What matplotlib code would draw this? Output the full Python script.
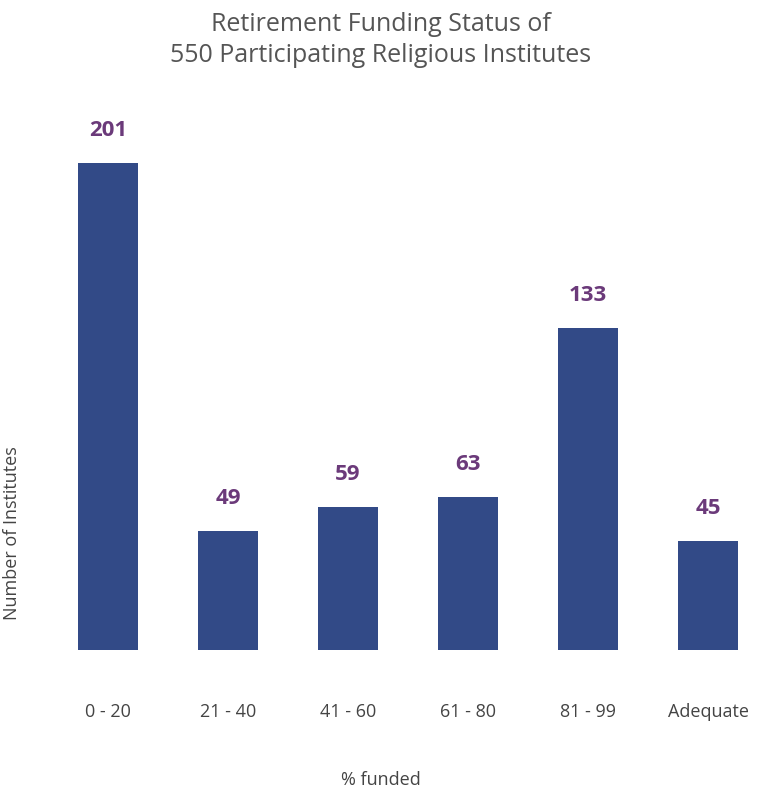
import matplotlib
matplotlib.use("Agg")
import matplotlib.pyplot as plt

categories = ["0 - 20", "21 - 40", "41 - 60", "61 - 80", "81 - 99", "Adequate"]
values = [201, 49, 59, 63, 133, 45]

plt.rcParams['font.family'] = ['Open Sans', 'DejaVu Sans']
fig = plt.figure(figsize=(7.62, 7.9), dpi=100)
ax = fig.add_axes([78/762, 140/790, 660/762, 550/790])
x = range(len(categories))
ax.bar(x, values, width=0.5, color="#324a87")
ax.set_xlim(-0.25, 5.25)
ax.set_ylim(0, 227)
for xi, v in zip(x, values):
    ax.annotate(str(v), (xi, v), xytext=(0, 16), textcoords="offset points",
                ha="center", va="bottom", fontsize=16, fontweight="bold", color="#6b3a7a")
ax.set_xticks(list(x))
ax.set_xticklabels(categories, fontsize=13, color="#444444")
ax.tick_params(axis="x", length=0, pad=38)
ax.set_yticks([])
for s in ax.spines.values():
    s.set_visible(False)
fig.text(381/762, 1-780/790, "% funded", ha="center", va="center", fontsize=13, color="#444444")
fig.text(12/762, 1-533/790, "Number of Institutes", rotation=90, ha="center", va="center", fontsize=13, color="#444444")
fig.text(381/762, 1-40/790, "Retirement Funding Status of\n550 Participating Religious Institutes",
         ha="center", va="center", fontsize=18, color="#555555", linespacing=1.3)
fig.savefig("out.png", dpi=100)
